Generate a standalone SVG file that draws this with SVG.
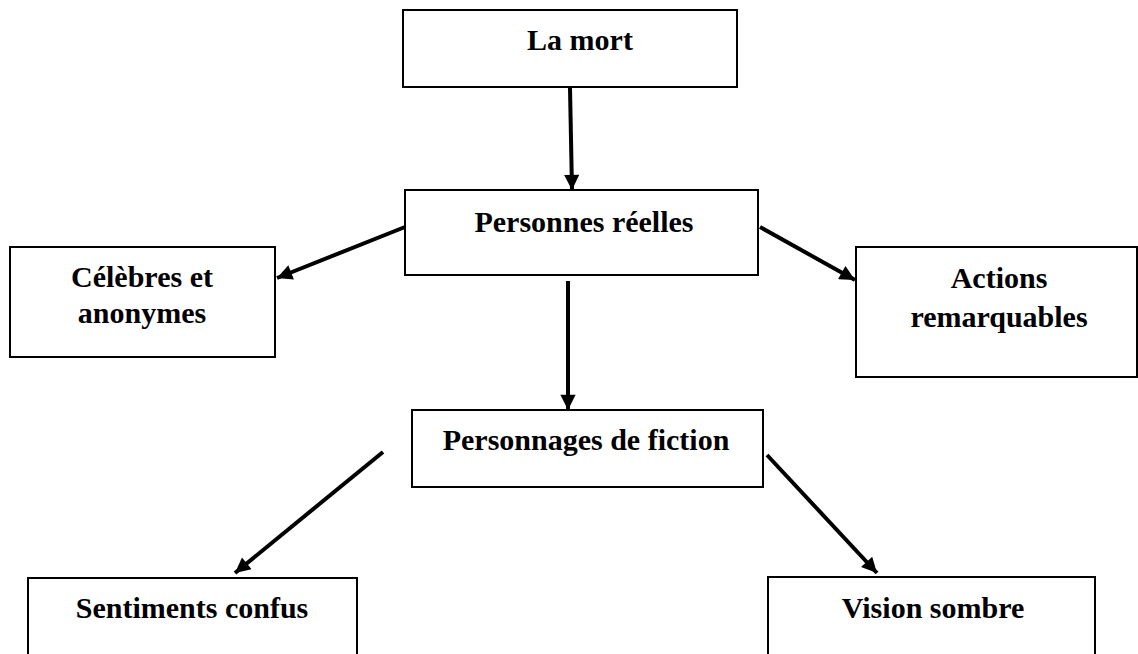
<svg xmlns="http://www.w3.org/2000/svg" width="1138" height="654" viewBox="0 0 1138 654">
<defs>
<style>
.box{fill:#fff;stroke:#000;stroke-width:2}
.lbl{font-family:"Liberation Serif","Times New Roman",serif;font-weight:bold;font-size:30px;fill:#000;text-anchor:middle}
.conn{stroke:#000;stroke-width:4;fill:none;marker-end:url(#ah)}
</style>
<marker id="ah" viewBox="0 0 10 10" refX="10" refY="5" markerWidth="4.2" markerHeight="3.8" orient="auto" markerUnits="strokeWidth">
<path d="M0,0 L10,5 L0,10 z" fill="#000"/>
</marker>
</defs>
<rect width="1138" height="654" fill="#fff"/>
<g id="connectors">
<line class="conn" x1="570" y1="88" x2="572" y2="190"/>
<line class="conn" x1="568" y1="281" x2="568" y2="410"/>
<line class="conn" x1="405" y1="227" x2="277" y2="278"/>
<line class="conn" x1="760" y1="227" x2="855" y2="280"/>
<line class="conn" x1="383" y1="452" x2="235" y2="573"/>
<line class="conn" x1="767" y1="455" x2="877" y2="573"/>
</g>
<g id="n-la-mort">
<rect class="box" x="403" y="10" width="334" height="77"/>
<text class="lbl" x="580" y="50">La mort</text>
</g>
<g id="n-personnes-reelles">
<rect class="box" x="405" y="190" width="353" height="85"/>
<text class="lbl" x="584" y="232">Personnes réelles</text>
</g>
<g id="n-celebres">
<rect class="box" x="10" y="247" width="265" height="110"/>
<text class="lbl" x="142" y="287">Célèbres et</text>
<text class="lbl" x="142" y="323">anonymes</text>
</g>
<g id="n-actions">
<rect class="box" x="856" y="247" width="281" height="130"/>
<text class="lbl" x="999" y="288">Actions</text>
<text class="lbl" x="999" y="327">remarquables</text>
</g>
<g id="n-personnages">
<rect class="box" x="412" y="410" width="351" height="77"/>
<text class="lbl" x="586" y="450">Personnages de fiction</text>
</g>
<g id="n-sentiments">
<rect class="box" x="28" y="578" width="329" height="90"/>
<text class="lbl" x="192" y="618">Sentiments confus</text>
</g>
<g id="n-vision">
<rect class="box" x="768" y="577" width="327" height="90"/>
<text class="lbl" x="933" y="618">Vision sombre</text>
</g>
</svg>
